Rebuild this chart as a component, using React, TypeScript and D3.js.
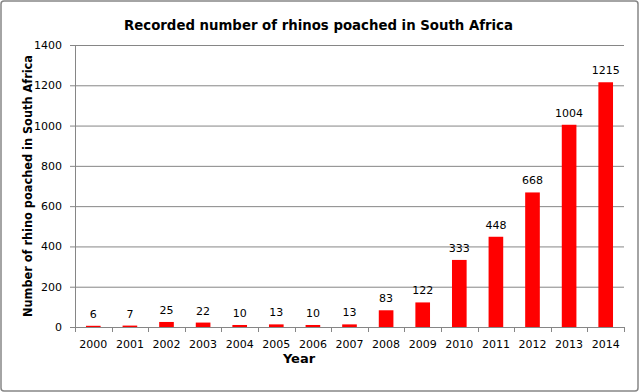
import React from "react";
import * as d3 from "d3";

const years = ["2000","2001","2002","2003","2004","2005","2006","2007","2008","2009","2010","2011","2012","2013","2014"];
const poached = [6,7,25,22,10,13,10,13,83,122,333,448,668,1004,1215];
const yTicks = [0,200,400,600,800,1000,1200,1400];

const W = 640, H = 392;
const left = 75, right = 624, top = 45, bottom = 327;
const font = "DejaVu Sans, Verdana, sans-serif";

export default function App() {
  const x = d3.scaleBand<string>().domain(years).range([left, right]).paddingInner(0.6).paddingOuter(0.3);
  const xb = d3.scaleBand<string>().domain(years).range([left, right]);
  const y = d3.scaleLinear().domain([0, 1400]).range([bottom, top]);
  return (
    <svg width={W} height={H} style={{ position: "absolute", left: 0, top: 0 }} fontFamily={font}>
      <rect x={0} y={0} width={W} height={H} fill="#fff" />
      <rect x={1} y={1} width={W - 3} height={H - 2} rx={3} fill="none" stroke="#868686" strokeWidth={1.5} />
      <text x={318.5} y={30} textAnchor="middle" fontSize={14} fontWeight="bold" textLength={389} lengthAdjust="spacingAndGlyphs">Recorded number of rhinos poached in South Africa</text>
      {yTicks.map(t => (
        <g key={t}>
          {t > 0 && <line x1={left} x2={right} y1={y(t) + 0.5} y2={y(t) + 0.5} stroke="#868686" />}
          <line x1={left - 5} x2={left} y1={y(t) + 0.5} y2={y(t) + 0.5} stroke="#868686" />
          <text x={62} y={y(t) + 4} textAnchor="end" fontSize={11}>{t}</text>
        </g>
      ))}
      <line x1={left + 0.5} x2={left + 0.5} y1={top} y2={bottom} stroke="#868686" />
      <line x1={left} x2={right} y1={bottom + 0.5} y2={bottom + 0.5} stroke="#868686" />
      {years.map((yr, i) => (
        <line key={"t" + yr} x1={Math.round(xb(yr)!) + 0.5} x2={Math.round(xb(yr)!) + 0.5} y1={bottom} y2={bottom + 5} stroke="#868686" />
      ))}
      <line x1={right + 0.5} x2={right + 0.5} y1={bottom} y2={bottom + 5} stroke="#868686" />
      {years.map((yr, i) => (
        <g key={yr}>
          <rect x={x(yr)} y={y(poached[i])} width={x.bandwidth()} height={bottom - y(poached[i])} fill="#ff0000" />
          <text x={x(yr)! + x.bandwidth() / 2} y={y(poached[i]) - 8} textAnchor="middle" fontSize={11}>{poached[i]}</text>
          <text x={xb(yr)! + xb.bandwidth() / 2} y={348} textAnchor="middle" fontSize={11}>{yr}</text>
        </g>
      ))}
      <text x={299} y={363} textAnchor="middle" fontSize={13} fontWeight="bold">Year</text>
      <text transform="translate(32,186) rotate(-90)" textAnchor="middle" fontSize={12} fontWeight="bold" textLength={262} lengthAdjust="spacingAndGlyphs">Number of rhino  poached in South Africa</text>
    </svg>
  );
}
